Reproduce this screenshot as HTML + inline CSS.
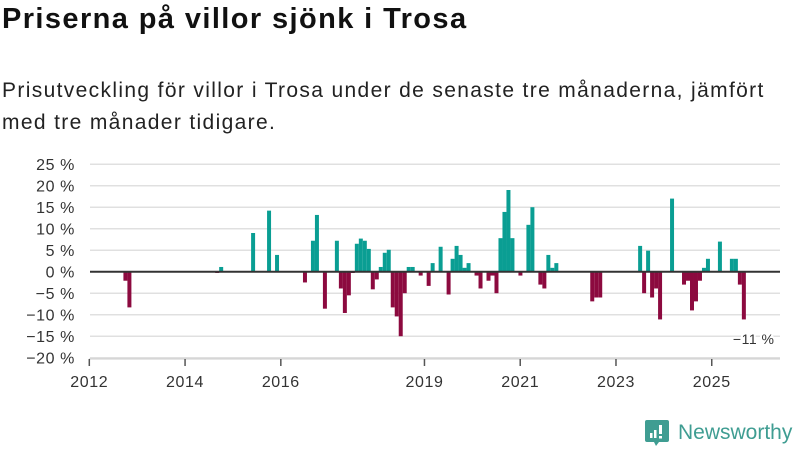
<!DOCTYPE html>
<html><head><meta charset="utf-8"><style>
body{margin:0;width:800px;height:450px;background:#fff;font-family:"Liberation Sans",sans-serif;overflow:hidden;position:relative}
#title{position:absolute;left:2px;top:3px;font-size:29px;letter-spacing:1.4px;font-weight:bold;color:#111;margin:0}
#sub{position:absolute;left:2px;top:75px;font-size:21px;letter-spacing:1.35px;line-height:32px;color:#222;width:798px}
svg{position:absolute;left:0;top:0}
</style></head><body>
<h1 id="title">Priserna på villor sjönk i Trosa</h1>
<div id="sub">Prisutveckling för villor i Trosa under de senaste tre månaderna, jämfört med tre månader tidigare.</div>
<svg id="chart" width="800" height="450"></svg>
<script>
const months=["2012-09","2012-10","2014-08","2014-09","2015-05","2015-09","2015-11","2016-06","2016-08","2016-09","2016-11","2017-02","2017-03","2017-04","2017-05","2017-06","2017-07","2017-08","2017-09","2017-10","2017-11","2017-12","2018-01","2018-02","2018-03","2018-04","2018-05","2018-06","2018-07","2018-08","2018-09","2018-11","2019-01","2019-02","2019-04","2019-06","2019-07","2019-08","2019-09","2019-10","2019-11","2020-01","2020-02","2020-04","2020-05","2020-06","2020-07","2020-08","2020-09","2020-10","2020-12","2021-02","2021-03","2021-05","2021-06","2021-07","2021-08","2021-09","2022-06","2022-07","2022-08","2023-06","2023-07","2023-08","2023-09","2023-10","2023-11","2024-02","2024-05","2024-06","2024-07","2024-08","2024-09","2024-10","2024-11","2025-02","2025-05","2025-06","2025-07","2025-08"];
const values=[-2.1,-8.3,-0.3,1.1,9.0,14.2,3.9,-2.5,7.2,13.2,-8.6,7.2,-3.9,-9.6,-5.5,-0.3,6.5,7.7,7.2,5.3,-4.1,-1.8,1.1,4.4,5.1,-8.3,-10.4,-15.0,-5.0,1.1,1.1,-0.9,-3.3,2.0,5.8,-5.3,3.0,6.0,3.9,0.9,2.0,-0.9,-3.9,-2.1,-0.9,-5.0,7.8,13.9,19.0,7.8,-0.9,10.9,15.0,-3.0,-3.9,3.9,0.9,2.0,-6.9,-6.0,-6.0,6.0,-5.0,4.9,-6.0,-3.9,-11.1,17.0,-3.0,-2.1,-9.0,-6.9,-2.1,0.9,3.0,7.0,3.0,3.0,-3.0,-11.1];
const yTicks=[25,20,15,10,5,0,-5,-10,-15,-20];
const xTickYears=[2012,2014,2016,2019,2021,2023,2025];
const lastLabel="−11 %";
const NS="http://www.w3.org/2000/svg";
const svg=document.getElementById('chart');
function mi(s){const p=s.split('-');return (+p[0]-2012)*12+(+p[1]-1);}
function xs(m){return 89.3+3.99*m;}
function ys(v){return 271.7-v*4.3;}
function mk(t,a){const e=document.createElementNS(NS,t);for(const k in a)e.setAttribute(k,a[k]);svg.appendChild(e);return e;}
yTicks.forEach(v=>{
  const g=mk('line',{x1:90,x2:780,y1:ys(v),y2:ys(v),stroke:'#e0e0e0','stroke-width':1.5});
  
  
  const t=mk('text',{x:75,y:ys(v)+6,'text-anchor':'end','font-size':16,'letter-spacing':0.6,fill:'#333','font-family':'Liberation Sans, sans-serif'});
  t.textContent=(v<0?'−'+(-v):v)+' %';
  
  
});
const ax=mk('line',{x1:89,x2:780,y1:359,y2:359,stroke:'#ccc','stroke-width':1});


xTickYears.forEach(y=>{
  const x=xs((y-2012)*12);
  const tk=mk('line',{x1:x,x2:x,y1:359,y2:366,stroke:'#555','stroke-width':1.5});
  
  
  const t=mk('text',{x:x,y:387,'text-anchor':'middle','font-size':16,'letter-spacing':0.6,fill:'#333','font-family':'Liberation Sans, sans-serif'});
  t.textContent=y;
  
  
});
months.forEach((s,i)=>{
  const v=values[i];const x=xs(mi(s))+2.2;
  const y0=ys(Math.max(v,0)),h=Math.abs(ys(v)-ys(0));
  const r=mk('rect',{x:x,y:y0,width:3.99,height:h,fill:v>=0?'#0a9e93':'#8c0a3f'});
  
  
});
const z=mk('line',{x1:90,x2:780,y1:ys(0),y2:ys(0),stroke:'#333','stroke-width':2});


const lm=mi(months[months.length-1]);
const lb=mk('text',{x:xs(lm)+14,y:344,'text-anchor':'middle','font-size':14,'letter-spacing':0.5,fill:'#333','font-family':'Liberation Sans, sans-serif',stroke:'#fff','stroke-width':4,'paint-order':'stroke'});
lb.textContent=lastLabel;


</script>
<div style="position:absolute;left:645px;top:420px;display:flex;align-items:center">
<svg width="24" height="26" viewBox="0 0 24 26" style="position:static"><path d="M2 0h20a2 2 0 0 1 2 2v18a2 2 0 0 1-2 2H14l-3 4-2-4H2a2 2 0 0 1-2-2V2a2 2 0 0 1 2-2z" fill="#3f9d92"/><rect x="5" y="13" width="2.5" height="5" fill="#fff"/><rect x="9" y="10" width="2.5" height="8" fill="#fff"/><rect x="14" y="5" width="3" height="9" fill="#fff"/><rect x="14" y="16" width="3" height="2.5" fill="#fff"/></svg>
<span style="font-size:21px;color:#3f9d92;margin-left:9px;font-family:'Liberation Sans',sans-serif">Newsworthy</span></div>
</body></html>
